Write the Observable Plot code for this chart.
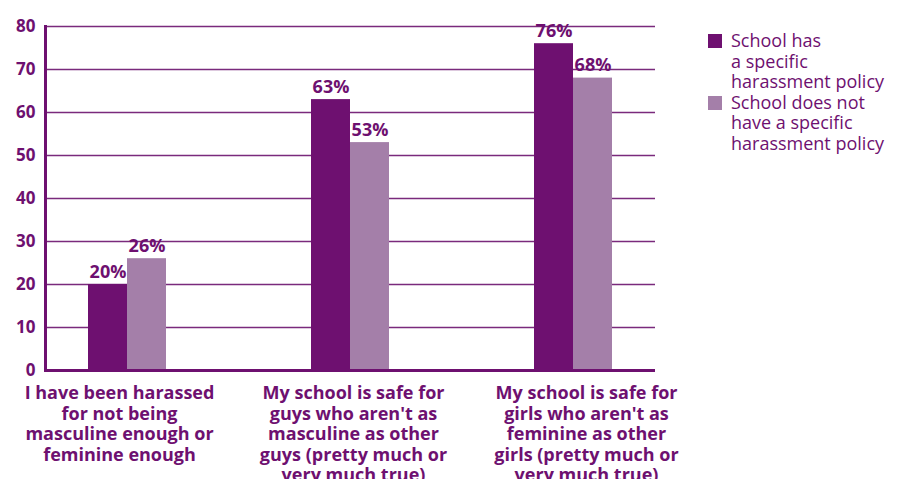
<!DOCTYPE html>
<html>
<head>
<meta charset="utf-8">
<script src="https://cdn.jsdelivr.net/npm/d3@7"></script>
<script src="https://cdn.jsdelivr.net/npm/@observablehq/plot@0.6"></script>
<style>
  html, body { margin: 0; padding: 0; background: #fff; }
  #wrap { position: relative; width: 897px; height: 479px; overflow: hidden; }
  #legend { position: absolute; left: 708px; top: 30px; font-family: "Open Sans", sans-serif; font-size: 18px; color: #6e1070; line-height: 20.5px; }
  .item { display: flex; align-items: flex-start; }
  .sw { width: 14px; height: 14px; margin-top: 4px; margin-right: 9px; flex: none; }
</style>
</head>
<body>
<div id="wrap">
  <div id="chart"></div>
  <div id="legend"></div>
</div>
<script>
const categories = ["harassed", "safeGuys", "safeGirls"];
const tickLabels = [
  "I have been harassed\nfor not being\nmasculine enough or\nfeminine enough",
  "My school is safe for\nguys who aren't as\nmasculine as other\nguys (pretty much or\nvery much true)",
  "My school is safe for\ngirls who aren't as\nfeminine as other\ngirls (pretty much or\nvery much true)"
];
const tickShift = [-8, 3, 13];
const seriesNames = ["School has\na specific\nharassment policy", "School does not\nhave a specific\nharassment policy"];
const hasPolicy = [20, 63, 76];
const noPolicy = [26, 53, 68];
const yTicks = [0, 10, 20, 30, 40, 50, 60, 70, 80];
const colors = ["#6e1070", "#a47fa9"];

const dataHas = categories.map((c, i) => ({cat: c, value: hasPolicy[i]}));
const dataNo = categories.map((c, i) => ({cat: c, value: noPolicy[i]}));
const tickMap = new Map(categories.map((c, i) => [c, tickLabels[i]]));

const purple = "#6e1070";
const chart = Plot.plot({
  width: 897,
  height: 479,
  marginLeft: 45,
  marginRight: 242,
  marginTop: 26,
  marginBottom: 109,
  style: {fontFamily: "'Open Sans', sans-serif", fontSize: "17px", fontWeight: "bold", color: purple, background: "#fff", overflow: "visible"},
  x: {domain: categories, paddingInner: 0.652, paddingOuter: 0.19, axis: null, label: null},
  y: {domain: [0, 80], axis: null, label: null},
  marks: [
    Plot.ruleY(yTicks.filter(d => d > 0), {stroke: "#7a2a7c", strokeWidth: 1.6}),
    Plot.barY(dataHas, {x: "cat", y: "value", fill: colors[0], insetRight: 39}),
    Plot.barY(dataNo, {x: "cat", y: "value", fill: colors[1], insetLeft: 39}),
    Plot.text(dataHas, {x: "cat", y: "value", text: d => d.value + "%", dx: -19.5, dy: -7, lineAnchor: "bottom", fill: purple, fontWeight: "bold", fontSize: 18}),
    Plot.text(dataNo, {x: "cat", y: "value", text: d => d.value + "%", dx: 19.5, dy: -7, lineAnchor: "bottom", fill: purple, fontWeight: "bold", fontSize: 18}),
    Plot.axisY({ticks: yTicks, tickSize: 0, tickPadding: 10, fontSize: 17, fontWeight: "bold", fill: purple, label: null}),
    ...categories.map((c, i) => Plot.axisX({ticks: [c], dx: tickShift[i], tickSize: 0, tickPadding: 14, tickFormat: d => tickMap.get(d), lineHeight: 1.14, fontSize: 18, fontWeight: "bold", fill: purple, textOverflow: null, lineWidth: Infinity, label: null})),
    Plot.ruleY([0], {stroke: purple, strokeWidth: 3}),
    Plot.frame({anchor: "left", stroke: purple, strokeWidth: 3})
  ]
});
document.getElementById("chart").appendChild(chart);

const legend = document.getElementById("legend");
seriesNames.forEach((name, i) => {
  const item = document.createElement("div");
  item.className = "item";
  const sw = document.createElement("div");
  sw.className = "sw";
  sw.style.background = colors[i];
  const label = document.createElement("div");
  label.style.whiteSpace = "pre";
  label.textContent = name;
  item.appendChild(sw);
  item.appendChild(label);
  legend.appendChild(item);
});
</script>
</body>
</html>
